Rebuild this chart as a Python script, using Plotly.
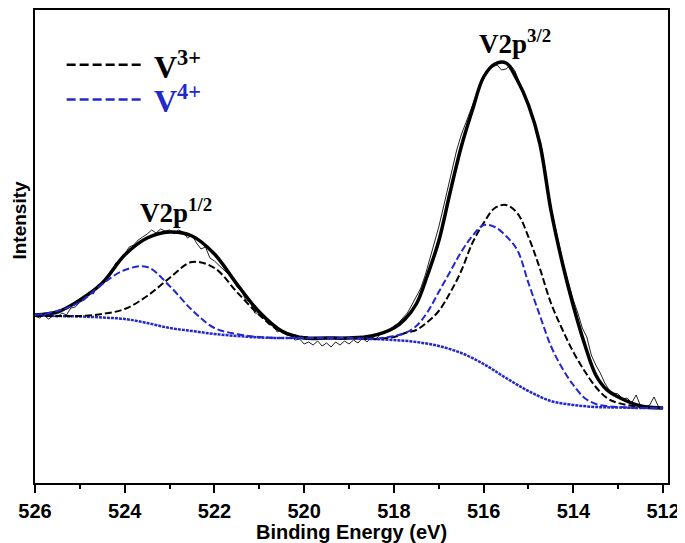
import numpy as np
import plotly.graph_objects as go

# ---------------- data (arbitrary intensity units) ----------------
fit_be = [526, 525.5, 525, 524.5, 524, 523.5, 523, 522.5, 522, 521.5, 521, 520.5, 520, 519.5,
          519, 518.5, 518, 517.75, 517.5, 517.25, 517, 516.75, 516.5, 516.25, 516, 515.75,
          515.5, 515.25, 515, 514.75, 514.5, 514.25, 514, 513.75, 513.5, 513.25, 513, 512.5, 512]

envelope = [168, 171, 183, 200, 228, 245, 251, 247, 229, 199, 171, 152, 145, 145,
            145, 147, 155, 164, 179, 208, 242, 290, 336, 373, 406, 419,
            420, 403, 378, 340, 273, 221, 177, 139, 108, 93, 86, 77, 75]

v3_plus = [167, 167, 167, 169, 174, 187, 205, 221, 215, 191, 168, 151, 146, 145,
           145, 144, 146, 150, 153, 161, 172, 190, 212, 240, 260, 275,
           278, 270, 246, 215, 180, 154, 131, 112, 96, 85, 80, 76, 75]

v4_plus = [168, 172, 181, 199, 213, 216, 197, 173, 155, 149, 146, 145, 145, 145,
           145, 144, 147, 150, 157, 171, 191, 211, 231, 247, 258, 256,
           247, 233, 200, 168, 137, 115, 98, 85, 79, 77, 76, 75, 75]

bg_be = [526, 525.5, 525, 524.5, 524, 523.5, 523, 522.5, 522, 521.5, 521, 520.5, 520, 519.5,
         519, 518.5, 518, 517.5, 517, 516.5, 516, 515.5, 515, 514.5, 514, 513.5, 513, 512.5, 512]
background = [168, 167, 166.5, 165.5, 164, 160, 155, 152, 149, 147, 145.5, 145, 145, 145,
              145, 144, 143, 141, 137, 130, 119, 105, 92, 82, 78, 76, 75.5, 75, 75]

raw_be = np.round(np.linspace(526, 512, 141), 2)
raw = [167, 165, 168, 164, 167, 166, 170, 168, 175, 176,
       181, 183, 191, 189, 198, 199, 207, 211, 220, 223,
       229, 236, 238, 243, 246, 249, 253, 250, 254, 252,
       253, 249, 253, 251, 245, 248, 240, 234, 236, 225,
       222, 218, 214, 210, 205, 196, 192, 183, 181, 170,
       170, 166, 159, 158, 151, 153, 148, 147, 143, 144,
       139, 141, 138, 142, 137, 140, 136, 141, 138, 142,
       139, 143, 140, 145, 141, 146, 144, 149, 151, 153,
       157, 160, 165, 170, 178, 186, 195, 208, 224, 240,
       256, 275, 294, 314, 333, 348, 360, 371, 385, 397,
       407, 414, 416, 418, 413, 414, 418, 412, 400, 390,
       378, 364, 351, 333, 305, 276, 255, 234, 215, 199,
       183, 170, 155, 146, 128, 118, 110, 100, 93, 90,
       89, 84, 85, 80, 88, 77, 76, 78, 86, 76,
       75]

x_ticks = [526, 524, 522, 520, 518, 516, 514, 512]
peak_labels = ["V2p<sup>1/2</sup>", "V2p<sup>3/2</sup>"]
peak_label_be = [522.85, 515.3]
peak_label_int = [272, 441]
legend_names = ["V<sup>3+</sup>", "V<sup>4+</sup>"]

BLUE = "rgb(35,40,205)"
SANS = "Liberation Sans, Arial, sans-serif"
SERIF = "Liberation Serif, Times New Roman, serif"

fig = go.Figure()
fig.add_trace(go.Scatter(x=raw_be, y=raw, mode="lines",
                         line=dict(color="#222222", width=1), showlegend=False))
fig.add_trace(go.Scatter(x=fit_be, y=envelope, mode="lines",
                         line=dict(color="black", width=3.5, shape="spline", smoothing=1),
                         showlegend=False))
fig.add_trace(go.Scatter(x=bg_be, y=background, mode="lines",
                         line=dict(color=BLUE, width=2.5, dash="3px,1px", shape="spline", smoothing=1),
                         showlegend=False))
fig.add_trace(go.Scatter(x=fit_be, y=v3_plus, mode="lines",
                         line=dict(color="black", width=2, dash="7px,3px", shape="spline", smoothing=1),
                         showlegend=False))
fig.add_trace(go.Scatter(x=fit_be, y=v4_plus, mode="lines",
                         line=dict(color=BLUE, width=2, dash="7px,3px", shape="spline", smoothing=1),
                         showlegend=False))

# peak labels
for txt, bx, by in zip(peak_labels, peak_label_be, peak_label_int):
    fig.add_annotation(x=bx, y=by, xref="x", yref="y", text="<b>" + txt + "</b>",
                       showarrow=False, font=dict(family=SERIF, size=27, color="black"))

# manual legend
leg_colors = ["black", BLUE]
leg_y = [0.884, 0.811]
for name, col, ly in zip(legend_names, leg_colors, leg_y):
    fig.add_shape(type="line", xref="paper", yref="paper", x0=0.050, x1=0.172, y0=ly, y1=ly,
                  line=dict(color=col, width=2.5, dash="9px,4px"))
    fig.add_annotation(x=0.185, y=ly, xref="paper", yref="paper", xanchor="left", yanchor="middle",
                       text="<b>" + name + "</b>", showarrow=False,
                       font=dict(family=SERIF, size=32, color=col))

# y-axis title (placed as in the reference, above the axis centre)
fig.add_annotation(x=-0.026, y=0.556, xref="paper", yref="paper", text="<b>Intensity</b>",
                   textangle=-90, showarrow=False, xanchor="center", yanchor="middle",
                   font=dict(family=SANS, size=19, color="black"))

# the page body adds an 8px offset, so the figure is 8px smaller and margins are shifted
fig.update_layout(
    width=677, height=535,
    margin=dict(l=27, r=17, t=2, b=60),
    paper_bgcolor="white", plot_bgcolor="white",
    showlegend=False,
    xaxis=dict(range=[526, 511.89], tickvals=x_ticks, ticks="outside", ticklen=8, tickwidth=1.5,
               tickcolor="black", showline=True, linecolor="black", linewidth=1.5, mirror=True,
               showgrid=False, zeroline=False, automargin=False, ticklabelstandoff=1,
               minor=dict(dtick=1, ticks="outside", ticklen=4, tickwidth=1.5, tickcolor="black", showgrid=False),
               tickfont=dict(family=SANS, size=20, color="black", weight="bold"),
               title=dict(text="<b>Binding Energy (eV)</b>", standoff=4,
                          font=dict(family=SANS, size=20, color="black"))),
    yaxis=dict(range=[0, 473], showticklabels=False, ticks="", showline=True, linecolor="black",
               linewidth=1.5, mirror=True, showgrid=False, zeroline=False, automargin=False),
)

fig.write_html("out.html")
